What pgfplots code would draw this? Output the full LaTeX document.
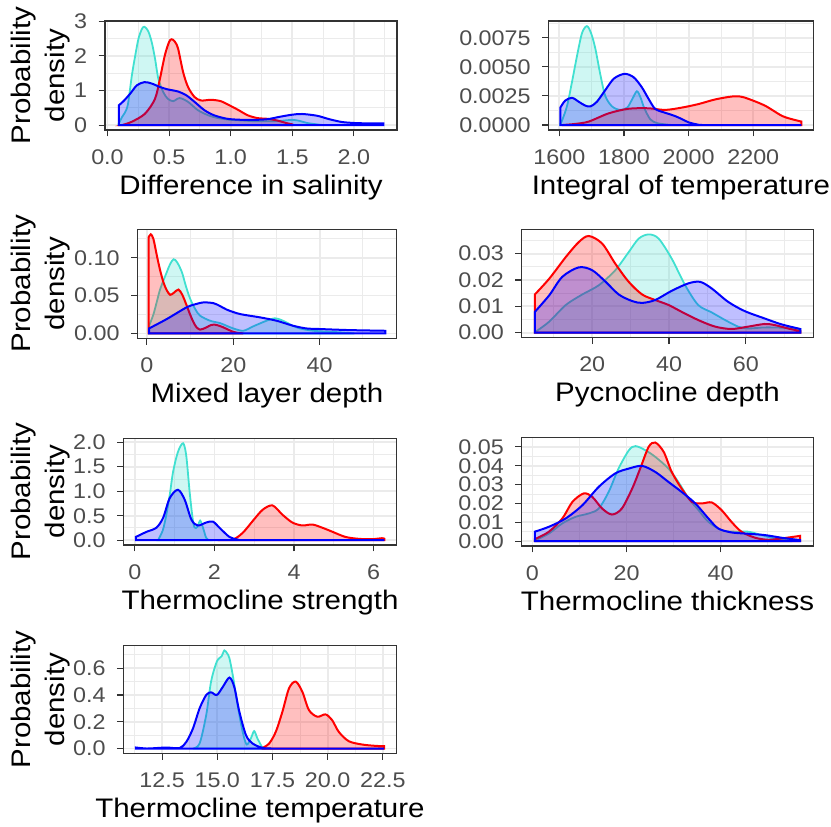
\documentclass[border=0pt]{standalone}
\usepackage{fontspec}
\setmainfont{Liberation Sans}[FakeStretch=1.1]
\usepackage{pgfplots}
\pgfplotsset{compat=1.18}
\definecolor{tq}{HTML}{40E0D0}
\definecolor{grey20}{HTML}{333333}
\definecolor{grey30}{HTML}{4D4D4D}
\definecolor{grey92}{HTML}{EBEBEB}
\pgfplotsset{
  dens/.style={
    scale only axis, anchor=south west,
    axis line style={draw=grey20, line width=0.55pt},
    tick style={draw=grey20, line width=0.55pt},
    tick align=outside, major tick length=3.2pt, minor tick length=0pt,
    tick pos=left,
    grid=both,
    scaled x ticks=false, scaled y ticks=false,
    major grid style={draw=grey92, line width=0.9pt},
    minor grid style={draw=grey92, line width=0.45pt},
    ticklabel style={font=\fontsize{10.6}{12}\selectfont, text=grey30, inner sep=0pt},
    xticklabel style={anchor=base, yshift=-13.8pt},
    yticklabel style={anchor=east, xshift=-5.5pt},
    xlabel style={at={(axis description cs:0.5,0)}, anchor=base, yshift=-32pt, font=\fontsize{13.4}{16}\selectfont, inner sep=0pt},
    /pgf/number format/assume math mode=true,
  },
  cy/.style={draw=tq, line width=0.9pt, fill=tq, fill opacity=0.25, smooth, mark=none},
  rd/.style={draw=red, line width=1pt, fill=red, fill opacity=0.25, smooth, mark=none},
  bl/.style={draw=blue, line width=1pt, fill=blue, fill opacity=0.25, smooth, mark=none},
}
\begin{document}
\begin{tikzpicture}
\path[use as bounding box] (0,0) rectangle (415.5pt,-413pt);
\tikzset{ylab/.style={rotate=90, align=center, font=\fontsize{13.4}{17}\selectfont, inner sep=0pt}}
\node[ylab] at (20.5pt,-37.75pt) {Probability\\density};
\node[ylab] at (20.5pt,-141.9pt) {Probability\\density};
\node[ylab] at (20.5pt,-245.8pt) {Probability\\density};
\node[ylab] at (20.5pt,-349.75pt) {Probability\\density};

% Panel 1
\begin{axis}[dens, at={(52.5pt,-65pt)}, width=146pt, height=54.5pt,
  xmin=-0.02, xmax=2.35, ymin=-0.143, ymax=3.007,
  xtick={0,0.5,1,1.5,2}, xticklabels={0.0,0.5,1.0,1.5,2.0},
  minor xtick={0.25,0.75,1.25,1.75,2.25},
  ytick={0,1,2,3}, yticklabels={0,1,2,3}, minor ytick={0.5,1.5,2.5},
  xlabel={Difference in salinity}]
\addplot[cy] coordinates {(0.09,0.03) (0.118,0.23) (0.14,0.35) (0.166,0.6) (0.198,1.43) (0.225,2.0) (0.252,2.5) (0.28,2.78) (0.30,2.84) (0.33,2.72) (0.359,2.4) (0.386,1.92) (0.413,1.34) (0.453,0.95) (0.49,0.76) (0.533,0.69) (0.586,0.78) (0.654,0.67) (0.734,0.43) (0.82,0.28) (0.9,0.2) (1.0,0.15) (1.1,0.13) (1.2,0.11) (1.3,0.11) (1.4,0.12) (1.5,0.15) (1.56,0.12) (1.62,0.06) (1.7,0.02) (1.75,0)} \closedcycle;
\addplot[rd] coordinates {(0.12,0.0) (0.2,0.1) (0.305,0.33) (0.386,0.76) (0.426,1.34) (0.466,2.02) (0.50,2.4) (0.52,2.48) (0.545,2.42) (0.573,2.21) (0.614,1.53) (0.654,1.10) (0.707,0.81) (0.76,0.71) (0.84,0.73) (0.92,0.69) (0.99,0.57) (1.06,0.44) (1.14,0.28) (1.22,0.2) (1.3,0.18) (1.38,0.13) (1.45,0.06) (1.5,0.02)} \closedcycle;
\addplot[bl] coordinates {(0.092,0.57) (0.13,0.69) (0.185,0.91) (0.239,1.15) (0.30,1.24) (0.359,1.2) (0.426,1.1) (0.49,1.03) (0.573,0.97) (0.64,0.86) (0.707,0.67) (0.787,0.43) (0.867,0.28) (0.975,0.18) (1.1,0.15) (1.2,0.15) (1.3,0.17) (1.4,0.24) (1.5,0.3) (1.58,0.32) (1.7,0.27) (1.8,0.17) (1.9,0.09) (2.0,0.06) (2.1,0.05) (2.24,0.05)} \closedcycle;
\end{axis}

% Panel 2
\begin{axis}[dens, at={(274.2pt,-65pt)}, width=132.5pt, height=54.5pt,
  xmin=1566, xmax=2386, ymin=-0.000426, ymax=0.00894,
  xtick={1600,1800,2000,2200}, xticklabels={1600,1800,2000,2200},
  minor xtick={1700,1900,2100,2300},
  ytick={0,0.0025,0.005,0.0075}, yticklabels={0.0000,0.0025,0.0050,0.0075},
  minor ytick={0.00125,0.00375,0.00625,0.00875},
  xlabel={Integral of temperature}]
\addplot[cy] coordinates {(1603,0.0001) (1608,0.00037) (1624,0.00167) (1639,0.0037) (1655,0.006) (1670,0.0079) (1685,0.0085) (1698,0.0079) (1711,0.0066) (1727,0.0043) (1742,0.0025) (1763,0.0016) (1788,0.0013) (1810,0.0015) (1825,0.0022) (1840,0.0029) (1852,0.0023) (1862,0.0015) (1881,0.0005) (1902,0.00017) (1930,0.00005) (1950,0)} \closedcycle;
\addplot[rd] coordinates {(1608,0) (1650,0.0001) (1691,0.0003) (1752,0.001) (1814,0.0014) (1876,0.00144) (1927,0.0013) (1979,0.0015) (2030,0.0018) (2082,0.0022) (2133,0.00245) (2160,0.00245) (2185,0.00225) (2236,0.00167) (2288,0.0008) (2320,0.0005) (2349,0.0003)} \closedcycle;
\addplot[bl] coordinates {(1603,0.0015) (1618,0.0021) (1639,0.00234) (1660,0.002) (1680,0.00167) (1696,0.0016) (1716,0.002) (1742,0.003) (1769,0.004) (1802,0.0044) (1830,0.0041) (1855,0.00325) (1876,0.00225) (1896,0.0014) (1922,0.0011) (1945,0.0009) (1960,0.00075) (1980,0.0005) (2000,0.00023) (2025,0.00006) (2050,0) (2200,0) (2349,0)} \closedcycle;
\end{axis}

% Panel 3
\begin{axis}[dens, at={(68.7pt,-169.2pt)}, width=129.6pt, height=54.5pt,
  xmin=-2.2, xmax=57.8, ymin=-0.0066, ymax=0.1375,
  xtick={0,20,40}, xticklabels={0,20,40}, minor xtick={10,30,50},
  ytick={0,0.05,0.1}, yticklabels={0.00,0.05,0.10}, minor ytick={0.025,0.075,0.125},
  xlabel={Mixed layer depth}]
\addplot[cy] coordinates {(0.5,0.01) (1.5,0.025) (2.3,0.042) (3.1,0.059) (4.6,0.081) (5.4,0.092) (6.2,0.098) (7.0,0.094) (8.1,0.081) (9.0,0.063) (10,0.046) (11.2,0.032) (12.3,0.0235) (14.6,0.0168) (16.9,0.0137) (18.5,0.01) (20,0.0066) (22.3,0.0035) (24.6,0.0093) (26.5,0.014) (27.7,0.0168) (29.6,0.02) (31,0.018) (32.3,0.0146) (33.8,0.01) (35.4,0.0066) (38.5,0.0035) (43,0.002) (46,0.001) (48,0)} \closedcycle;
\addplot[rd] coordinates {(0.4,0.127) (0.9,0.131) (1.5,0.125) (2.3,0.103) (3.0,0.085) (3.8,0.068) (4.6,0.057) (5.4,0.051) (6.3,0.054) (7.3,0.058) (8.2,0.051) (9.2,0.037) (10.0,0.025) (10.8,0.0146) (11.5,0.008) (12.3,0.005) (13.0,0.006) (13.8,0.008) (14.8,0.011) (15.8,0.0115) (16.8,0.010) (17.7,0.008) (19,0.0045) (20,0.002) (21,0.0008) (22.3,0)} \closedcycle;
\addplot[bl] coordinates {(0.5,0.0066) (4.6,0.019) (9.2,0.0345) (11.5,0.039) (13.1,0.041) (15.4,0.040) (17,0.036) (18.5,0.0314) (21.5,0.0257) (26.2,0.0212) (30,0.0168) (33.8,0.0102) (36.9,0.0066) (40,0.0058) (46.9,0.0044) (55.2,0.0035)} \closedcycle;
\end{axis}

% Panel 4
\begin{axis}[dens, at={(260.8pt,-168.8pt)}, width=145.9pt, height=54.1pt,
  xmin=1.6, xmax=77.6, ymin=-0.00187, ymax=0.0392,
  xtick={20,40,60}, xticklabels={20,40,60}, minor xtick={10,30,50,70},
  ytick={0,0.01,0.02,0.03}, yticklabels={0.00,0.01,0.02,0.03},
  minor ytick={0.005,0.015,0.025,0.035},
  xlabel={Pycnocline depth}]
\addplot[cy] coordinates {(5.3,0.0004) (8.8,0.0042) (13.1,0.0105) (17.4,0.0145) (21.7,0.018) (26,0.0237) (29.5,0.0306) (32.1,0.0357) (34.7,0.0373) (37.3,0.0357) (40.7,0.0281) (44.2,0.018) (47.6,0.0105) (51.1,0.0077) (54.6,0.0048) (58,0.0023) (60.6,0.0016) (64.9,0.002) (69.2,0.0019) (74.2,0.0014)} \closedcycle;
\addplot[rd] coordinates {(5.05,0.0145) (8.8,0.0205) (13.1,0.0287) (16.5,0.0344) (19.1,0.0367) (22.6,0.0338) (26,0.0262) (29.5,0.0193) (33,0.0145) (36.4,0.0124) (39.9,0.0105) (43.3,0.0079) (47.6,0.0048) (52,0.0023) (56.3,0.0014) (60.6,0.0023) (64.9,0.0033) (67.5,0.0029) (71,0.0016) (74.2,0.0006)} \closedcycle;
\addplot[bl] coordinates {(5.05,0.0079) (8.8,0.0142) (12.2,0.0212) (16.5,0.0248) (20,0.0237) (23.5,0.0193) (26.9,0.0145) (30.4,0.012) (33,0.0113) (36.4,0.0124) (40.7,0.0159) (45,0.0187) (48.1,0.0193) (51.1,0.0168) (55.4,0.0117) (59.7,0.0082) (64.9,0.0054) (69.2,0.0032) (74.2,0.0014)} \closedcycle;
\end{axis}

% Panel 5
\begin{axis}[dens, at={(61.7pt,-272.5pt)}, width=136.6pt, height=53.3pt,
  xmin=-0.29, xmax=6.58, ymin=-0.099, ymax=2.08,
  xtick={0,2,4,6}, xticklabels={0,2,4,6}, minor xtick={1,3,5},
  ytick={0,0.5,1,1.5,2}, yticklabels={0.0,0.5,1.0,1.5,2.0},
  minor ytick={0.25,0.75,1.25,1.75},
  xlabel={Thermocline strength}]
\addplot[cy] coordinates {(0.58,0) (0.7,0.2) (0.79,0.52) (0.88,0.95) (0.96,1.40) (1.08,1.80) (1.21,1.98) (1.29,1.73) (1.375,0.99) (1.45,0.45) (1.5,0.26) (1.57,0.27) (1.64,0.40) (1.71,0.26) (1.79,0.05) (1.86,0)} \closedcycle;
\addplot[rd] coordinates {(2.08,0) (2.46,0.013) (2.71,0.15) (2.96,0.39) (3.21,0.62) (3.46,0.71) (3.71,0.52) (3.96,0.36) (4.21,0.30) (4.46,0.32) (4.71,0.255) (4.96,0.174) (5.29,0.067) (5.63,0.027) (5.96,0.02) (6.21,0.04) (6.27,0.03)} \closedcycle;
\addplot[bl] coordinates {(0.025,0.067) (0.29,0.17) (0.54,0.255) (0.71,0.46) (0.875,0.86) (1.08,1.03) (1.25,0.83) (1.42,0.42) (1.58,0.30) (1.79,0.36) (1.96,0.38) (2.125,0.255) (2.375,0.067) (2.58,0.013) (2.8,0) (4.5,0) (6.27,0)} \closedcycle;
\end{axis}

% Panel 6
\begin{axis}[dens, at={(260.8pt,-273pt)}, width=145.9pt, height=54.2pt,
  xmin=-2.3, xmax=59.7, ymin=-0.0026, ymax=0.0549,
  xtick={0,20,40}, xticklabels={0,20,40}, minor xtick={10,30,50},
  ytick={0,0.01,0.02,0.03,0.04,0.05}, yticklabels={0.00,0.01,0.02,0.03,0.04,0.05},
  minor ytick={0.005,0.015,0.025,0.035,0.045},
  xlabel={Thermocline thickness}]
\addplot[cy] coordinates {(0.7,0.0005) (3.5,0.004) (6.35,0.0094) (9.2,0.0129) (12,0.0147) (14.1,0.0173) (16.2,0.0261) (18.3,0.0385) (20.5,0.0482) (21.9,0.0504) (24,0.0482) (26.1,0.0447) (28.9,0.0385) (31,0.0314) (33.2,0.0226) (35.3,0.0164) (37.4,0.0102) (40.2,0.0058) (43,0.005) (45.9,0.005) (48.7,0.0032) (51.5,0.0014) (55,0.0004)} \closedcycle;
\addplot[rd] coordinates {(0.5,0.001) (3.5,0.005) (6.35,0.012) (8.5,0.0208) (10.9,0.0253) (12.7,0.0235) (14.8,0.0173) (16.9,0.0141) (19,0.0173) (21.2,0.0279) (22.9,0.0385) (24.7,0.05) (26.1,0.0523) (27.9,0.0473) (29.6,0.0367) (31.7,0.0279) (33.9,0.0208) (36,0.02) (38.1,0.0205) (40.2,0.0164) (42.3,0.0102) (44.4,0.005) (47.3,0.0018) (50.1,0.0007) (52.9,0.0014) (56.9,0.0028)} \closedcycle;
\addplot[bl] coordinates {(0.5,0.005) (3.5,0.0076) (7.05,0.012) (10.6,0.019) (14.1,0.0288) (17.6,0.0359) (20.5,0.0385) (23.3,0.0399) (26.1,0.0367) (28.9,0.0314) (31.7,0.0261) (34.6,0.02) (37.4,0.012) (39.5,0.0067) (42.3,0.0046) (45.9,0.0039) (49.4,0.0032) (52.9,0.0018) (56.9,0.0005)} \closedcycle;
\end{axis}

% Panel 7
\begin{axis}[dens, at={(61.7pt,-376.7pt)}, width=136.6pt, height=53.9pt,
  xmin=10.75, xmax=23.12, ymin=-0.0366, ymax=0.769,
  xtick={12.5,15,17.5,20,22.5}, xticklabels={12.5,15.0,17.5,20.0,22.5},
  minor xtick={11.25,13.75,16.25,18.75,21.25},
  ytick={0,0.2,0.4,0.6}, yticklabels={0.0,0.2,0.4,0.6}, minor ytick={0.1,0.3,0.5,0.7},
  xlabel={Thermocline temperature}]
\addplot[cy] coordinates {(13.9,0) (14.2,0.0375) (14.5,0.25) (14.72,0.5) (14.98,0.65) (15.2,0.69) (15.32,0.733) (15.45,0.71) (15.55,0.675) (15.7,0.55) (15.92,0.325) (16.15,0.125) (16.33,0.03) (16.52,0.075) (16.67,0.13) (16.82,0.075) (17.05,0.005) (17.15,0)} \closedcycle;
\addplot[rd] coordinates {(17.05,0.005) (17.35,0.0375) (17.65,0.125) (17.95,0.275) (18.25,0.45) (18.55,0.5) (18.85,0.425) (19.15,0.2875) (19.53,0.2375) (19.9,0.255) (20.2,0.2125) (20.5,0.125) (20.95,0.055) (21.55,0.03) (22.15,0.02) (22.56,0.0175)} \closedcycle;
\addplot[bl] coordinates {(11.31,0.0075) (11.8,0) (12.3,0.004) (12.7,0.0075) (13.3,0.004) (13.6,0.05) (13.9,0.15) (14.2,0.3) (14.5,0.4) (14.72,0.42) (14.98,0.4) (15.25,0.46) (15.55,0.53) (15.77,0.46) (16.0,0.275) (16.3,0.1) (16.6,0.0375) (17.05,0.005) (17.5,0) (20,0) (22.56,0)} \closedcycle;
\end{axis}
\end{tikzpicture}
\end{document}
